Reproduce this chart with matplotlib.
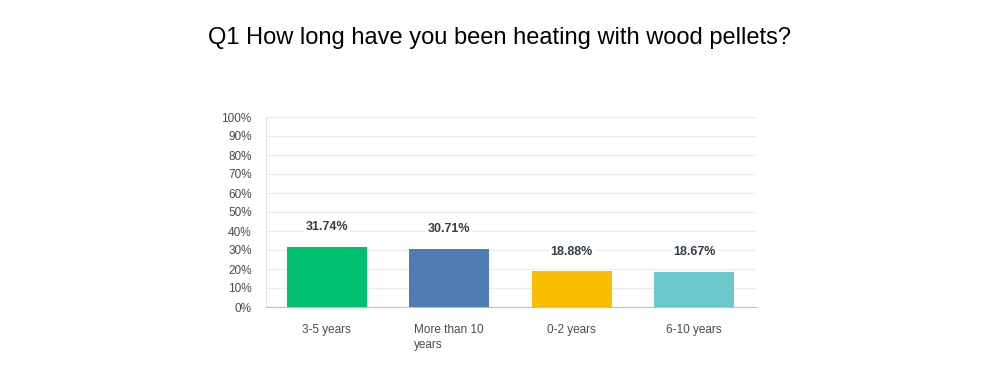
import matplotlib
matplotlib.use("Agg")
import matplotlib.pyplot as plt

categories = ["3-5 years", "More than 10\nyears", "0-2 years", "6-10 years"]
values = [31.74, 30.71, 18.88, 18.67]
colors = ["#00BF6F", "#507CB6", "#F9BE00", "#6BC8CD"]
title = "Q1 How long have you been heating with wood pellets?"

plt.rcParams['font.family'] = ['Liberation Sans', 'DejaVu Sans']

fig = plt.figure(figsize=(10, 3.86), dpi=100)
ax = fig.add_axes([0.2655, (386 - 307) / 386, 0.49, 190 / 386])

x = list(range(len(categories)))
ax.bar(x, values, width=0.653, color=colors, zorder=3)
ax.set_xlim(-0.5, len(categories) - 0.5)
ax.set_ylim(0, 100)
ax.set_yticks(range(0, 101, 10))
ax.set_yticklabels([f"{v}%" for v in range(0, 101, 10)], fontsize=8.5, color="#444d56")
ax.set_xticks(x)
ax.set_xticklabels(categories, fontsize=8.5, color="#444d56", multialignment='left',
                   linespacing=1.4)
ax.tick_params(axis='both', length=0)
ax.tick_params(axis='x', pad=12)
ax.tick_params(axis='y', pad=10)
ax.grid(axis='y', color="#ebebeb", linewidth=0.8, zorder=0)
for s in ["top", "right"]:
    ax.spines[s].set_visible(False)
ax.spines["left"].set_color("#e0e0e0")
ax.spines["bottom"].set_color("#c0c0c0")

for xi, v in zip(x, values):
    ax.annotate(f"{v:.2f}%", (xi, v), xytext=(0, 14), textcoords="offset points",
                ha="center", va="center", fontsize=9, fontweight="bold", color="#333e48",
                bbox=dict(boxstyle="square,pad=0.15", fc="white", ec="none"), zorder=4)

fig.text(0.5, 1 - 38 / 386, title, ha="center", va="center", fontsize=17, color="#000000")

fig.savefig("out.png", dpi=100)
